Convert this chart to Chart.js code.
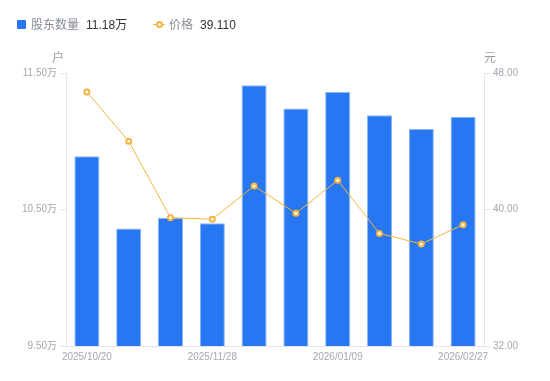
<!DOCTYPE html>
<html>
<head>
<meta charset="utf-8">
<script src="https://cdn.jsdelivr.net/npm/chart.js@4/dist/chart.umd.min.js"></script>
<style>
html,body{margin:0;padding:0;background:#fff;}
#wrap{position:relative;width:550px;height:381px;}
#c{position:absolute;left:0;top:0;}
#legend{position:absolute;left:0;top:14px;height:20px;font-family:"Liberation Sans","Noto Sans CJK SC",sans-serif;font-size:12px;line-height:20px;white-space:nowrap;}
.li{position:absolute;top:0;}
.lab{color:#878c96;font-family:"Noto Sans CJK SC",sans-serif;}
.val{color:#333;margin-left:7px;}
</style>
</head>
<body>
<div id="wrap">
<canvas id="c" width="550" height="381"></canvas>
<div id="legend">
  <div class="li" style="left:17px;"><span style="position:absolute;left:0;top:6px;width:9px;height:9px;background:#2777f2;border-radius:1px;"></span><span style="position:absolute;left:14px;"><span class="lab">股东数量</span><span class="val">11.18万</span></span></div>
  <div class="li" style="left:153px;"><span style="position:absolute;left:0;top:10px;width:12px;height:1px;background:#f5b43f;"></span><span style="position:absolute;left:3px;top:7px;width:3px;height:3px;border:2px solid #f5b43f;border-radius:50%;background:#fff;"></span><span style="position:absolute;left:16px;"><span class="lab">价格</span><span class="val">39.110</span></span></div>
</div>
</div>
<script>
const categories = ['2025/10/20','2025/10/31','2025/11/10','2025/11/28','2025/12/10','2025/12/31','2026/01/09','2026/01/20','2026/02/10','2026/02/27'];
const holders = [10.89, 10.36, 10.44, 10.40, 11.41, 11.24, 11.36, 11.19, 11.09, 11.18];
const prices = [46.89, 44.00, 39.52, 39.43, 41.38, 39.78, 41.71, 38.60, 37.98, 39.11];
const leftTicks = [9.5, 10.5, 11.5];
const rightTicks = [32, 40, 48];

const tickColor = '#a5a7b2';
const lineGray = '#e3e4e8';
const fontFam = '"Liberation Sans","Noto Sans CJK SC",sans-serif';

const axisTitles = {
  id: 'axisTitles',
  afterDraw(chart) {
    const ctx = chart.ctx, a = chart.chartArea;
    ctx.save();
    ctx.font = '12px "Noto Sans CJK SC",sans-serif';
    ctx.fillStyle = '#9a9ca6';
    ctx.textBaseline = 'middle';
    ctx.textAlign = 'center';
    ctx.fillText('户', a.left - 8, a.top - 16);
    ctx.fillText('元', a.right + 6, a.top - 16);
    ctx.restore();
  }
};

new Chart(document.getElementById('c'), {
  data: {
    labels: categories,
    datasets: [
      {
        type: 'line',
        label: '价格',
        data: prices,
        yAxisID: 'y1',
        borderColor: '#f5b43f',
        borderWidth: 1,
        pointRadius: 2.5,
        pointBorderWidth: 2,
        pointBackgroundColor: '#fff',
        pointBorderColor: '#f5b43f',
        tension: 0,
        order: 0
      },
      {
        type: 'bar',
        label: '股东数量',
        data: holders,
        yAxisID: 'y',
        backgroundColor: '#2777f2',
        borderColor: '#8ab6f8',
        borderWidth: 1,
        borderSkipped: 'bottom',
        categoryPercentage: 1,
        barPercentage: 0.6,
        order: 1
      }
    ]
  },
  options: {
    responsive: false,
    animation: false,
    layout: { padding: { top: 73, left: 0, right: 0, bottom: 0 } },
    plugins: { legend: { display: false }, tooltip: { enabled: false } },
    scales: {
      x: {
        grid: { display: false, drawTicks: false },
        border: { display: true, color: lineGray },
        afterFit(s) { s.height = 35; },
        ticks: {
          autoSkip: false,
          maxRotation: 0,
          padding: 5,
          color: tickColor,
          font: { size: 10, family: fontFam },
          callback(v, i) { return i % 3 === 0 ? categories[i] : ''; }
        }
      },
      y: {
        position: 'left',
        min: 9.5, max: 11.5,
        afterBuildTicks(s) { s.ticks = leftTicks.map(v => ({ value: v })); },
        afterFit(s) { s.width = 66; },
        grid: { drawOnChartArea: false, tickLength: 6, color: lineGray },
        border: { display: true, color: lineGray },
        ticks: {
          padding: 3,
          color: tickColor,
          font: { size: 10, family: fontFam },
          callback(v) { return v.toFixed(2) + '万'; }
        }
      },
      y1: {
        position: 'right',
        min: 32, max: 48,
        afterBuildTicks(s) { s.ticks = rightTicks.map(v => ({ value: v })); },
        afterFit(s) { s.width = 66; },
        grid: { drawOnChartArea: false, tickLength: 6, color: lineGray },
        border: { display: true, color: lineGray },
        ticks: {
          padding: 3,
          color: tickColor,
          font: { size: 10, family: fontFam },
          callback(v) { return v.toFixed(2); }
        }
      }
    }
  },
  plugins: [axisTitles]
});
</script>
</body>
</html>
